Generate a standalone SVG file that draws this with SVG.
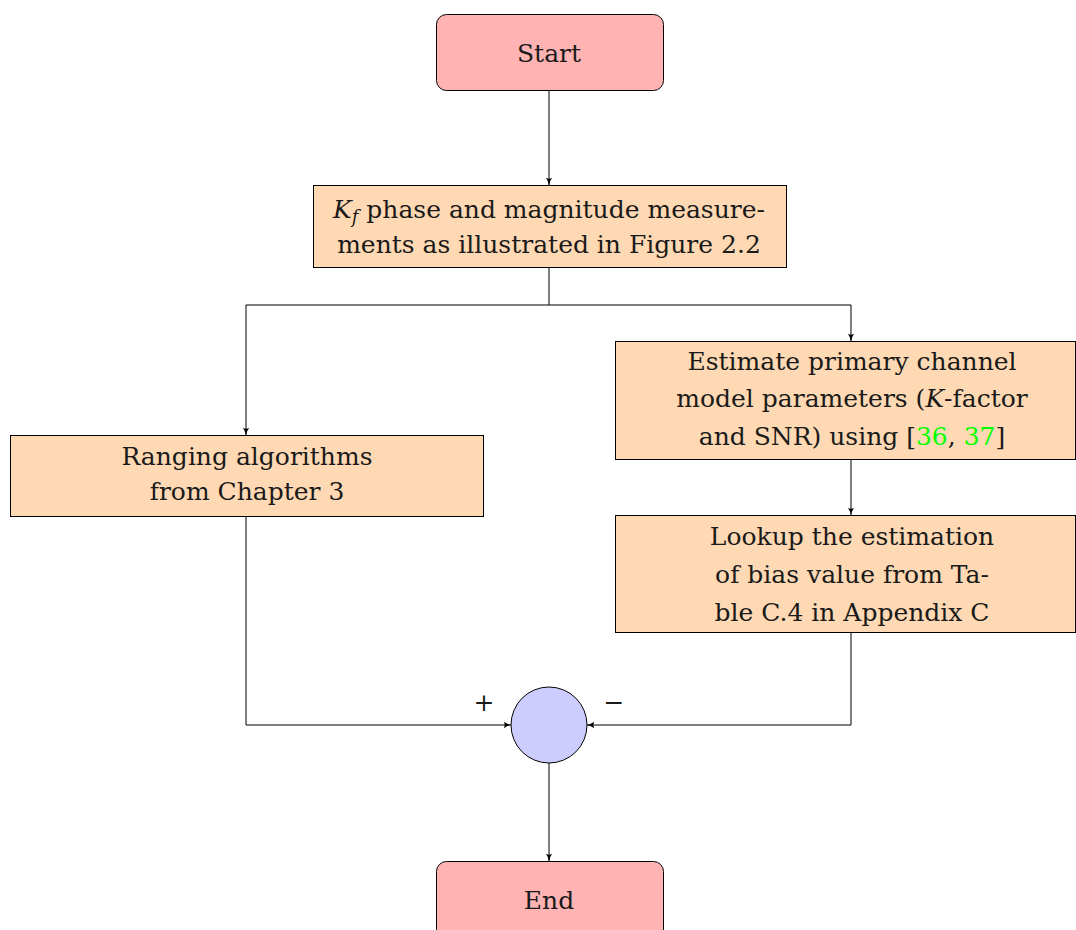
<svg xmlns="http://www.w3.org/2000/svg" width="1076" height="930" viewBox="0 0 1076 930">
<defs>
<marker id="arr" viewBox="0 0 10 10" refX="9" refY="5" markerWidth="9" markerHeight="9" markerUnits="userSpaceOnUse" orient="auto">
<path d="M1,1.5 Q5,4.5 9.5,5 Q5,5.5 1,8.5 Q3,5 1,1.5 Z" fill="#000"/>
</marker>
</defs>
<style>
.term{fill:#ffb3b3;stroke:#000;stroke-width:1}
.proc{fill:#ffd9b3;stroke:#000;stroke-width:1}
.sum{fill:#ccccff;stroke:#000;stroke-width:1}
.t{font-family:"DejaVu Serif",serif;font-size:25px;fill:#1a1a1a;text-anchor:middle}
.cite{fill:#00ff00}
.c{fill:none;stroke:#000;stroke-width:1;marker-end:url(#arr)}
</style>
<g id="start"><rect class="term" x="436.5" y="14.5" width="227" height="76" rx="10"/><text class="t" x="549" y="62">Start</text></g>
<g id="kf"><rect class="proc" x="313.5" y="185.5" width="473" height="82"/>
<text class="t" x="549" y="218"><tspan font-style="italic">K</tspan><tspan font-style="italic" font-size="18" dy="5">f</tspan><tspan dy="-5"> phase and magnitude measure-</tspan></text>
<text class="t" x="549" y="253">ments as illustrated in Figure 2.2</text></g>
<g id="ranging"><rect class="proc" x="10.5" y="435.5" width="473" height="81"/>
<text class="t" x="247" y="465">Ranging algorithms</text><text class="t" x="247" y="500">from Chapter 3</text></g>
<g id="estimate"><rect class="proc" x="615.5" y="341.5" width="460" height="118"/>
<text class="t" x="852" y="370">Estimate primary channel</text>
<text class="t" x="852" y="407">model parameters (<tspan font-style="italic">K</tspan>-factor</text>
<text class="t" x="852" y="445">and SNR) using [<tspan class="cite">36</tspan>, <tspan class="cite">37</tspan>]</text></g>
<g id="lookup"><rect class="proc" x="615.5" y="515.5" width="460" height="117"/>
<text class="t" x="852" y="545">Lookup the estimation</text>
<text class="t" x="852" y="583">of bias value from Ta-</text>
<text class="t" x="852" y="621">ble C.4 in Appendix C</text></g>
<g id="sum"><circle class="sum" cx="549" cy="725" r="38"/></g>
<g id="plus"><text class="t" x="484" y="711">+</text></g>
<g id="minus"><text class="t" x="614" y="711">−</text></g>
<g id="end"><rect class="term" x="436.5" y="861.5" width="227" height="80" rx="10"/><text class="t" x="549" y="909">End</text></g>
<g id="connectors">
<path class="c" d="M549,91 V185"/>
<path class="c" d="M549,268 V305 H246 V435"/>
<path class="c" d="M549,305 H851 V341"/>
<path class="c" d="M851,460 V515"/>
<path class="c" d="M246,517 V725 H511"/>
<path class="c" d="M851,633 V725 H587"/>
<path class="c" d="M549,763 V861"/>
</g>
</svg>
